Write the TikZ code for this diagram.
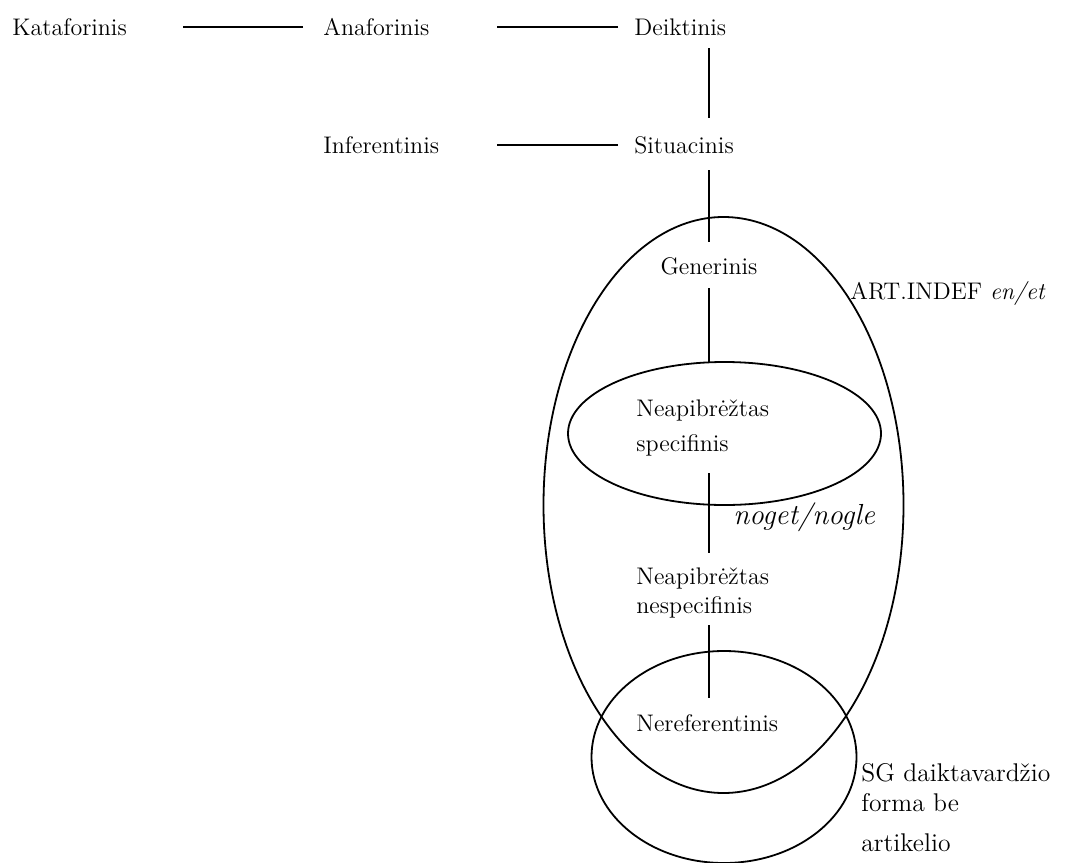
\documentclass[tikz,border=0pt]{standalone}
\usetikzlibrary{calc}

\tikzset{
  lbl/.style={inner sep=0pt, anchor=west, font=\fontsize{12}{14.5}\selectfont},
  link/.style={line width=0.7pt},
  zone/.style={line width=0.9pt}
}

\begin{document}
\begin{tikzpicture}[x=0.5pt, y=-0.5pt]
  \useasboundingbox (0,0) rectangle (1069,862);
  % top row
  \node [lbl] (kata) at (12,27) {Kataforinis};
  \node [lbl] (ana) at (323,27) {Anaforinis};
  \node [lbl] (deik) at (634,27) {Deiktinis};
  \node [lbl] (infer) at (323,145) {Inferentinis};
  \node [lbl] (situ) at (634,145) {Situacinis};
  % inside the zones
  \node [lbl, anchor=center] (gen) at (709,266) {Generinis};
  \node [lbl, align=left] (spec) at (636,428) {Neapibrėžtas\\[3pt]specifinis};
  \node [lbl, align=left] (nespec) at (636,593) {Neapibrėžtas\\nespecifinis};
  \node [lbl] (neref) at (636,723) {Nereferentinis};
  \node [lbl] (indef) at (850,293) {ART.INDEF \textit{en/et}};
  \node [lbl, font=\fontsize{14.5}{16}\selectfont\itshape] (noget) at (733,517) {noget/nogle};
  \node [lbl, align=left, font=\fontsize{12.8}{15}\selectfont] (sg) at (861,808) {SG daiktavardžio\\forma be\\[5pt]artikelio};
  % connectors
  \draw [link] (ana.west) ++(-20,0) -- ++(-120,0);
  \draw [link] (deik.west) ++(-16,0) -- ++(-121,0);
  \draw [link] (situ.west) ++(-16,0) -- ++(-121,0);
  \draw [link] (deik -| gen) ++(0,21) -- ++(0,70);
  \draw [link] (situ -| gen) ++(0,25) -- ++(0,72);
  \draw [link] (gen) ++(0,22) -- ++(0,74);
  \draw [link] (spec -| gen) ++(0,45) -- ++(0,80);
  \draw [link] (nespec -| gen) ++(0,32) -- ++(0,73);
  % zones
  \draw [zone] (723.5,505) ellipse [x radius=90pt, y radius=144pt];
  \draw [zone] (724.5,433.5) ellipse [x radius=78.25pt, y radius=35.75pt];
  \draw [zone] (724,757) ellipse [x radius=66.25pt, y radius=53pt];
\end{tikzpicture}
\end{document}
